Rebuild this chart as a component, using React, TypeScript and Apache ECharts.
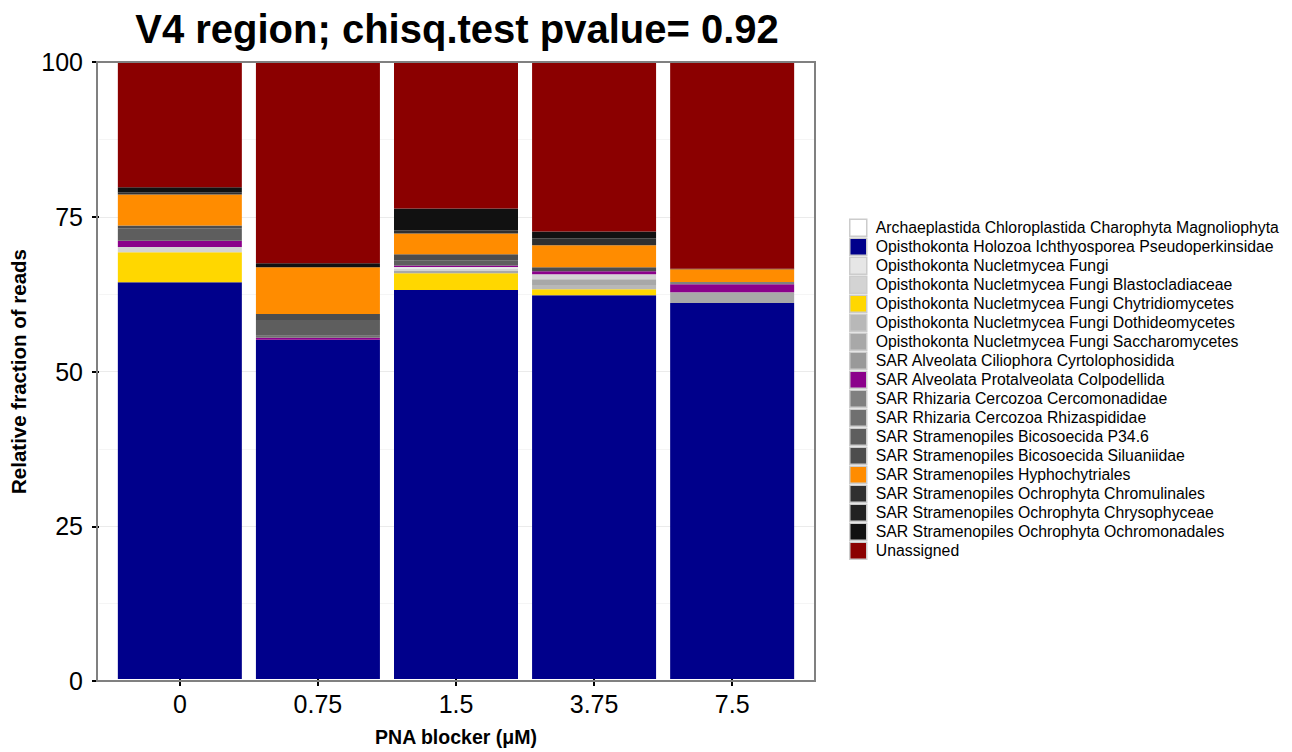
import React, { useEffect, useRef } from "react";
import * as echarts from "echarts";

const categories = ["0", "0.75", "1.5", "3.75", "7.5"];

const legendOrder = [
  "Archaeplastida Chloroplastida Charophyta Magnoliophyta",
  "Opisthokonta Holozoa Ichthyosporea Pseudoperkinsidae",
  "Opisthokonta Nucletmycea Fungi",
  "Opisthokonta Nucletmycea Fungi Blastocladiaceae",
  "Opisthokonta Nucletmycea Fungi Chytridiomycetes",
  "Opisthokonta Nucletmycea Fungi Dothideomycetes",
  "Opisthokonta Nucletmycea Fungi Saccharomycetes",
  "SAR Alveolata Ciliophora Cyrtolophosidida",
  "SAR Alveolata Protalveolata Colpodellida",
  "SAR Rhizaria Cercozoa Cercomonadidae",
  "SAR Rhizaria Cercozoa Rhizaspididae",
  "SAR Stramenopiles Bicosoecida P34.6",
  "SAR Stramenopiles Bicosoecida Siluaniidae",
  "SAR Stramenopiles Hyphochytriales",
  "SAR Stramenopiles Ochrophyta Chromulinales",
  "SAR Stramenopiles Ochrophyta Chrysophyceae",
  "SAR Stramenopiles Ochrophyta Ochromonadales",
  "Unassigned",
];

// stacking order (bottom to top)
const stackNames = [
  "Archaeplastida Chloroplastida Charophyta Magnoliophyta",
  "Opisthokonta Holozoa Ichthyosporea Pseudoperkinsidae",
  "Opisthokonta Nucletmycea Fungi Chytridiomycetes",
  "Opisthokonta Nucletmycea Fungi Dothideomycetes",
  "Opisthokonta Nucletmycea Fungi Saccharomycetes",
  "SAR Alveolata Ciliophora Cyrtolophosidida",
  "Opisthokonta Nucletmycea Fungi Blastocladiaceae",
  "Opisthokonta Nucletmycea Fungi",
  "SAR Alveolata Protalveolata Colpodellida",
  "SAR Rhizaria Cercozoa Cercomonadidae",
  "SAR Rhizaria Cercozoa Rhizaspididae",
  "SAR Stramenopiles Bicosoecida P34.6",
  "SAR Stramenopiles Bicosoecida Siluaniidae",
  "SAR Stramenopiles Hyphochytriales",
  "SAR Stramenopiles Ochrophyta Chromulinales",
  "SAR Stramenopiles Ochrophyta Chrysophyceae",
  "SAR Stramenopiles Ochrophyta Ochromonadales",
  "Unassigned",
];

const colors: Record<string, string> = {
  "Archaeplastida Chloroplastida Charophyta Magnoliophyta": "#FFFFFF",
  "Opisthokonta Holozoa Ichthyosporea Pseudoperkinsidae": "#00008B",
  "Opisthokonta Nucletmycea Fungi": "#E6E6E6",
  "Opisthokonta Nucletmycea Fungi Blastocladiaceae": "#D3D3D3",
  "Opisthokonta Nucletmycea Fungi Chytridiomycetes": "#FFD700",
  "Opisthokonta Nucletmycea Fungi Dothideomycetes": "#B8B8B8",
  "Opisthokonta Nucletmycea Fungi Saccharomycetes": "#A8A8A8",
  "SAR Alveolata Ciliophora Cyrtolophosidida": "#999999",
  "SAR Alveolata Protalveolata Colpodellida": "#8B008B",
  "SAR Rhizaria Cercozoa Cercomonadidae": "#808080",
  "SAR Rhizaria Cercozoa Rhizaspididae": "#707070",
  "SAR Stramenopiles Bicosoecida P34.6": "#5E5E5E",
  "SAR Stramenopiles Bicosoecida Siluaniidae": "#4D4D4D",
  "SAR Stramenopiles Hyphochytriales": "#FF8C00",
  "SAR Stramenopiles Ochrophyta Chromulinales": "#303030",
  "SAR Stramenopiles Ochrophyta Chrysophyceae": "#222222",
  "SAR Stramenopiles Ochrophyta Ochromonadales": "#111111",
  "Unassigned": "#8B0000",
};

const archaeplastida = [0, 0, 0, 0, 0];
const holozoa = [64.3, 55.0, 63.05, 62.2, 60.95];
const chytridiomycetes = [4.85, 0, 2.7, 0.97, 0];
const dothideomycetes = [0, 0, 0, 0.7, 0];
const saccharomycetes = [0, 0, 0.37, 0.92, 1.73];
const ciliophora = [0, 0, 0, 0, 0];
const blastocladiaceae = [0.86, 0, 0.39, 0.81, 0];
const fungi = [0, 0, 0.26, 0, 0];
const colpodellida = [1.03, 0.32, 0.23, 0.48, 1.29];
const cercomonadidae = [0, 0, 0, 0, 0.37];
const rhizaspididae = [0, 0.32, 0, 0, 0];
const p346 = [2.0, 2.54, 0.86, 0, 0];
const siluaniidae = [0.48, 0.97, 0.97, 0.65, 0];
const hyphochytriales = [5.0, 7.6, 3.39, 3.55, 2.05];
const chromulinales = [0.37, 0, 0.48, 1.13, 0];
const chrysophyceae = [0, 0, 0, 0, 0];
const ochromonadales = [0.8, 0.65, 3.55, 1.13, 0.11];
const unassigned = [20.3, 32.6, 23.75, 27.46, 33.5];

const valuesByName: Record<string, number[]> = {
  "Archaeplastida Chloroplastida Charophyta Magnoliophyta": archaeplastida,
  "Opisthokonta Holozoa Ichthyosporea Pseudoperkinsidae": holozoa,
  "Opisthokonta Nucletmycea Fungi": fungi,
  "Opisthokonta Nucletmycea Fungi Blastocladiaceae": blastocladiaceae,
  "Opisthokonta Nucletmycea Fungi Chytridiomycetes": chytridiomycetes,
  "Opisthokonta Nucletmycea Fungi Dothideomycetes": dothideomycetes,
  "Opisthokonta Nucletmycea Fungi Saccharomycetes": saccharomycetes,
  "SAR Alveolata Ciliophora Cyrtolophosidida": ciliophora,
  "SAR Alveolata Protalveolata Colpodellida": colpodellida,
  "SAR Rhizaria Cercozoa Cercomonadidae": cercomonadidae,
  "SAR Rhizaria Cercozoa Rhizaspididae": rhizaspididae,
  "SAR Stramenopiles Bicosoecida P34.6": p346,
  "SAR Stramenopiles Bicosoecida Siluaniidae": siluaniidae,
  "SAR Stramenopiles Hyphochytriales": hyphochytriales,
  "SAR Stramenopiles Ochrophyta Chromulinales": chromulinales,
  "SAR Stramenopiles Ochrophyta Chrysophyceae": chrysophyceae,
  "SAR Stramenopiles Ochrophyta Ochromonadales": ochromonadales,
  "Unassigned": unassigned,
};

const FONT = "'Liberation Sans', Arial, Helvetica, sans-serif";

export default function App() {
  const ref = useRef<HTMLDivElement>(null);
  useEffect(() => {
    if (!ref.current) return;
    const chart = echarts.init(ref.current, null, { renderer: "svg" });
    const GL = 97, GT = 62, GW = 718, GH = 619;
    const band = GW / 5.2;
    const innerLeft = GL + 0.1 * band;
    const innerWidth = band * 5;
    const option: any = {
      animation: false,
      textStyle: { fontFamily: FONT },
      grid: [
        { left: GL, top: GT, width: GW, height: GH, containLabel: false },
        { left: innerLeft, top: GT, width: innerWidth, height: GH, containLabel: false },
      ],
      xAxis: [
        {
          gridIndex: 0,
          type: "value",
          min: 0,
          max: 1,
          show: false,
        },
        {
          gridIndex: 1,
          type: "category",
          data: categories,
          axisLine: { show: false },
          splitLine: { show: false },
          axisTick: {
            show: true,
            alignWithLabel: true,
            length: 7,
            lineStyle: { color: "#000", width: 2 },
          },
          axisLabel: {
            fontSize: 25,
            color: "#000",
            margin: 12,
            fontFamily: FONT,
          },
          name: "PNA blocker (μM)",
          nameLocation: "middle",
          nameGap: 48,
          nameTextStyle: { fontSize: 19.5, fontWeight: "bold", color: "#000", fontFamily: FONT },
        },
      ],
      yAxis: [
        {
          gridIndex: 0,
          type: "value",
          min: 0,
          max: 100,
          interval: 25,
          axisLine: { show: false },
          axisTick: { show: true, length: 7, lineStyle: { color: "#000", width: 2 } },
          axisLabel: {
            fontSize: 25,
            color: "#000",
            margin: 16,
            fontFamily: FONT,
          },
          splitLine: { show: true, lineStyle: { color: "#EBEBEB", width: 1.2 } },
          minorTick: { show: false, splitNumber: 2 },
          minorSplitLine: { show: true, lineStyle: { color: "#F5F5F5", width: 1 } },
          name: "Relative fraction of reads",
          nameLocation: "middle",
          nameGap: 70,
          nameTextStyle: { fontSize: 20.5, fontWeight: "bold", color: "#000", fontFamily: FONT },
        },
        {
          gridIndex: 1,
          type: "value",
          min: 0,
          max: 100,
          show: false,
          splitLine: { show: false },
        },
      ],
      legend: {
        show: true,
        orient: "vertical",
        left: 849,
        top: 218.5,
        padding: 0,
        itemWidth: 17,
        itemHeight: 17,
        itemGap: 0.5,
        icon: "rect",
        data: legendOrder,
        itemStyle: { borderColor: "#CCCCCC", borderWidth: 1.5 },
        textStyle: { fontSize: 15.8, color: "#000", fontFamily: FONT, padding: [0, 0, 0, 4] },
        selectedMode: false,
      },
      series: stackNames.map((name) => ({
        name,
        type: "bar",
        stack: "total",
        xAxisIndex: 1,
        yAxisIndex: 1,
        barWidth: 124,
        itemStyle: { color: colors[name] },
        emphasis: { disabled: true },
        data: valuesByName[name],
      })),
      graphic: [
        {
          type: "text",
          x: 457,
          y: 29,
          z: 100,
          style: {
            text: "V4 region; chisq.test pvalue= 0.92",
            fontSize: 40,
            fontWeight: "bold",
            fontFamily: FONT,
            fill: "#000",
            align: "center",
            verticalAlign: "middle",
          },
        },
        {
          type: "rect",
          z: 100,
          shape: { x: GL, y: GT, width: GW, height: GH },
          style: { fill: "none", stroke: "#808080", lineWidth: 2 },
          silent: true,
        },
      ],
    };
    chart.setOption(option);
    return () => chart.dispose();
  }, []);
  return (
    <div
      ref={ref}
      style={{ position: "fixed", left: 0, top: 0, width: 1292, height: 752, background: "#fff" }}
    />
  );
}
